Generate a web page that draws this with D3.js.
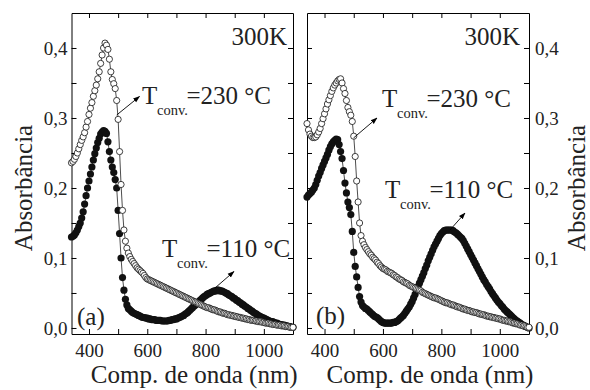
<!DOCTYPE html>
<html>
<head>
<meta charset="utf-8">
<script src="https://cdn.jsdelivr.net/npm/d3@7"></script>
<style>
  body { margin: 0; background: #fff; }
  svg { display: block; font-family: "Liberation Serif", "Times New Roman", serif; }
</style>
</head>
<body>
<svg id="chart" width="590" height="390"></svg>
<script>
// wavelength grid (nm), 5 nm step
const wavelength = d3.range(340, 1101, 5);

// panel (a)
const absA230 = [
  .236,.238,.241,.245,.250,.256,.262,.268,.273,.279,
  .287,.295,.305,.314,.322,.331,.339,.347,.356,.366,
  .378,.390,.400,.407,.404,.398,.384,.366,.355,.349,
  .342,.325,.298,.252,.205,.168,.140,.124,.114,.107,
  .102,.098,.095,.092,.089,.086,.084,.082,.080,.078,
  .075,.072,.070,.069,.068,.067,.066,.065,.064,.063,
  .062,.061,.060,.059,.058,.057,.056,.055,.054,.053,
  .052,.051,.050,.049,.048,.047,.046,.045,.044,.043,
  .042,.041,.040,.039,.038,.037,.036,.035,.034,.033,
  .032,.031,.030,.029,.029,.028,.027,.026,.026,.025,
  .024,.023,.023,.022,.021,.021,.020,.019,.019,.018,
  .018,.017,.017,.016,.016,.015,.015,.014,.014,.013,
  .013,.012,.012,.011,.011,.011,.010,.010,.009,.009,
  .009,.008,.008,.007,.007,.007,.006,.006,.005,.005,
  .005,.004,.004,.004,.003,.003,.003,.002,.002,.002,
  .001,.001,.001
];
const absA110 = [
  .130,.131,.133,.136,.140,.145,.150,.157,.166,.177,
  .189,.200,.210,.220,.230,.240,.249,.257,.265,.271,
  .277,.280,.282,.281,.278,.266,.252,.240,.230,.222,
  .212,.200,.168,.135,.100,.072,.054,.041,.033,.028,
  .026,.024,.022,.021,.020,.019,.018,.017,.016,.015,
  .015,.014,.014,.013,.013,.012,.012,.012,.011,.011,
  .011,.011,.010,.010,.010,.010,.010,.011,.011,.012,
  .012,.013,.013,.014,.015,.016,.017,.018,.020,.021,
  .023,.025,.027,.029,.031,.033,.035,.037,.039,.041,
  .043,.045,.046,.048,.049,.050,.051,.052,.053,.053,
  .054,.054,.053,.053,.052,.051,.050,.049,.047,.046,
  .045,.043,.042,.040,.039,.037,.036,.034,.033,.031,
  .030,.028,.027,.025,.024,.022,.021,.020,.018,.017,
  .016,.015,.014,.013,.012,.011,.010,.009,.009,.008,
  .007,.007,.006,.005,.005,.004,.004,.003,.003,.002,
  .002,.001,.001
];

// panel (b)
const absB230 = [
  .292,.283,.277,.274,.272,.272,.273,.276,.280,.285,
  .292,.299,.306,.313,.320,.326,.332,.338,.343,.347,
  .350,.353,.355,.356,.350,.342,.335,.325,.315,.309,
  .304,.295,.274,.245,.210,.180,.150,.132,.124,.119,
  .115,.112,.109,.106,.104,.101,.099,.097,.094,.092,
  .089,.087,.085,.084,.083,.081,.080,.079,.078,.076,
  .075,.073,.072,.070,.069,.068,.066,.065,.064,.063,
  .061,.060,.059,.058,.057,.056,.055,.054,.053,.051,
  .050,.049,.048,.047,.046,.045,.044,.043,.043,.042,
  .041,.040,.039,.038,.037,.036,.036,.035,.034,.033,
  .033,.032,.031,.030,.030,.029,.028,.027,.027,.026,
  .025,.025,.024,.023,.023,.022,.022,.021,.020,.020,
  .019,.019,.018,.017,.017,.016,.016,.015,.015,.014,
  .014,.013,.013,.012,.011,.011,.010,.010,.009,.009,
  .008,.007,.007,.006,.006,.005,.004,.004,.003,.003,
  .002,.001,.001
];
const absB110 = [
  .187,.190,.192,.194,.197,.200,.205,.211,.217,.222,
  .228,.233,.238,.243,.248,.254,.259,.263,.266,.268,
  .270,.269,.262,.252,.242,.225,.207,.193,.180,.172,
  .162,.138,.108,.088,.073,.058,.045,.037,.032,.030,
  .028,.027,.025,.023,.021,.019,.017,.016,.015,.013,
  .011,.009,.008,.007,.007,.007,.007,.007,.007,.008,
  .008,.009,.010,.012,.014,.016,.018,.021,.024,.027,
  .030,.034,.038,.043,.048,.054,.059,.064,.069,.074,
  .079,.085,.090,.096,.101,.106,.111,.116,.120,.124,
  .128,.132,.135,.137,.139,.140,.140,.140,.140,.140,
  .139,.137,.136,.134,.132,.130,.128,.125,.121,.117,
  .113,.109,.105,.101,.097,.093,.089,.085,.081,.077,
  .073,.069,.066,.062,.059,.056,.052,.049,.046,.043,
  .040,.037,.035,.032,.030,.027,.025,.023,.021,.019,
  .017,.015,.013,.011,.010,.008,.007,.005,.004,.003,
  .002,.001,.000
];

const xTicks = [400, 500, 600, 700, 800, 900, 1000];
const xLabels = [400, 600, 800, 1000];
const yTicks = [0, 0.05, 0.1, 0.15, 0.2, 0.25, 0.3, 0.35, 0.4];
const yLabels = [0, 0.1, 0.2, 0.3, 0.4];

const svg = d3.select('#chart');
const yTop = 13, yBottom = 334;

svg.append('defs').append('marker')
  .attr('id', 'arrow')
  .attr('viewBox', '0 0 10 10')
  .attr('refX', 9).attr('refY', 5)
  .attr('markerWidth', 7).attr('markerHeight', 7)
  .attr('markerUnits', 'userSpaceOnUse')
  .attr('orient', 'auto')
  .append('path').attr('d', 'M0,1.5L10,5L0,8.5Z').attr('fill', '#000');

const fmt = d => d3.format('.1f')(d).replace('.', ',');

const panels = [
  { left: 71.5, right: 293, open: absA230, filled: absA110, labelSide: 'left', letter: '(a)', letterX: 77, letterY: 325,
    kX: 287, hot: { x: 142, y: 104, ax: [116.7, 115, 139.5, 96.5], t: '=230 °C' },
    cold: { x: 162, y: 257, ax: [215, 288, 234, 271.5], t: '=110 °C' } },
  { left: 307, right: 529, open: absB230, filled: absB110, labelSide: 'right', letter: '(b)', letterX: 316, letterY: 324,
    kX: 520, hot: { x: 382, y: 107, ax: [353.5, 138, 377, 118], t: '=230 °C' },
    cold: { x: 385, y: 198, ax: [450, 230, 465, 213], t: '=110 °C' } }
];

panels.forEach(function (p) {
  const x = d3.scaleLinear().domain([340, 1100]).range([p.left, p.right]);
  const y = d3.scaleLinear().domain([-0.0086, 0.45]).range([yBottom, yTop]);
  const g = svg.append('g');

  // axes, ticks pointing inward
  g.append('g').attr('transform', 'translate(0,' + yBottom + ')')
    .call(d3.axisBottom(x).tickValues(xTicks).tickSizeInner(-5).tickSizeOuter(0).tickPadding(9.5)
      .tickFormat(d => xLabels.includes(d) ? d : ''));
  g.append('g').attr('transform', 'translate(0,' + yTop + ')')
    .call(d3.axisTop(x).tickValues(xTicks).tickSizeInner(-5).tickSizeOuter(0).tickFormat(''));
  g.append('g').attr('transform', 'translate(' + p.left + ',0)')
    .call(d3.axisLeft(y).tickValues(yTicks).tickSizeInner(-5).tickSizeOuter(0).tickPadding(4)
      .tickFormat(d => (p.labelSide === 'left' && yLabels.some(v => Math.abs(v - d) < 1e-9)) ? fmt(d) : ''));
  g.append('g').attr('transform', 'translate(' + p.right + ',0)')
    .call(d3.axisRight(y).tickValues(yTicks).tickSizeInner(-5).tickSizeOuter(0).tickPadding(6)
      .tickFormat(d => (p.labelSide === 'right' && yLabels.some(v => Math.abs(v - d) < 1e-9)) ? fmt(d) : ''));

  g.selectAll('.domain').attr('stroke', '#000').attr('stroke-width', 1);
  g.selectAll('.tick line').attr('stroke', '#000').attr('stroke-width', 1);
  g.selectAll('.tick text').attr('font-family', '"Liberation Serif", serif').attr('font-size', 19).attr('fill', '#222');

  const line = d3.line().x((d, i) => x(wavelength[i])).y(d => y(d));

  // 110 °C series (filled)
  g.append('path').datum(p.filled).attr('d', line)
    .attr('fill', 'none').attr('stroke', '#000').attr('stroke-width', 0.7);
  g.selectAll('.filled').data(p.filled).enter().append('circle')
    .attr('class', 'filled')
    .attr('cx', (d, i) => x(wavelength[i])).attr('cy', d => y(d))
    .attr('r', 3.6).attr('fill', '#111');

  // 230 °C series (open)
  g.append('path').datum(p.open).attr('d', line)
    .attr('fill', 'none').attr('stroke', '#000').attr('stroke-width', 0.7);
  g.selectAll('.open').data(p.open).enter().append('circle')
    .attr('class', 'open')
    .attr('cx', (d, i) => x(wavelength[i])).attr('cy', d => y(d))
    .attr('r', 3.1).attr('fill', '#fff').attr('stroke', '#111').attr('stroke-width', 0.8);

  // labels inside the panel
  g.append('text').attr('x', p.kX).attr('y', 45).attr('text-anchor', 'end')
    .attr('font-size', 25).attr('fill', '#222').text('300K');
  g.append('text').attr('x', p.letterX).attr('y', p.letterY)
    .attr('font-size', 25).attr('fill', '#222').text(p.letter);

  [p.hot, p.cold].forEach(function (a) {
    g.append('text').attr('x', a.x).attr('y', a.y).attr('font-size', 25).attr('fill', '#222').text('T');
    g.append('text').attr('x', a.x + 15).attr('y', a.y + 11).attr('font-size', 14.5).attr('fill', '#222').text('conv.');
    g.append('text').attr('x', a.x + 44.5).attr('y', a.y).attr('font-size', 25).attr('fill', '#222').text(a.t);
    g.append('line')
      .attr('x1', a.ax[0]).attr('y1', a.ax[1]).attr('x2', a.ax[2]).attr('y2', a.ax[3])
      .attr('stroke', '#000').attr('stroke-width', 0.9).attr('marker-end', 'url(#arrow)');
  });

  // axis titles
  g.append('text').attr('x', (p.left + p.right) / 2 + 12).attr('y', 383)
    .attr('text-anchor', 'middle').attr('font-size', 25).attr('fill', '#222')
    .text('Comp. de onda (nm)');
  const ty = p.labelSide === 'left' ? 32 : 585;
  g.append('text').attr('transform', 'translate(' + ty + ',188) rotate(-90)')
    .attr('text-anchor', 'middle').attr('font-size', 25).attr('fill', '#222')
    .text('Absorbância');
});
</script>
</body>
</html>
